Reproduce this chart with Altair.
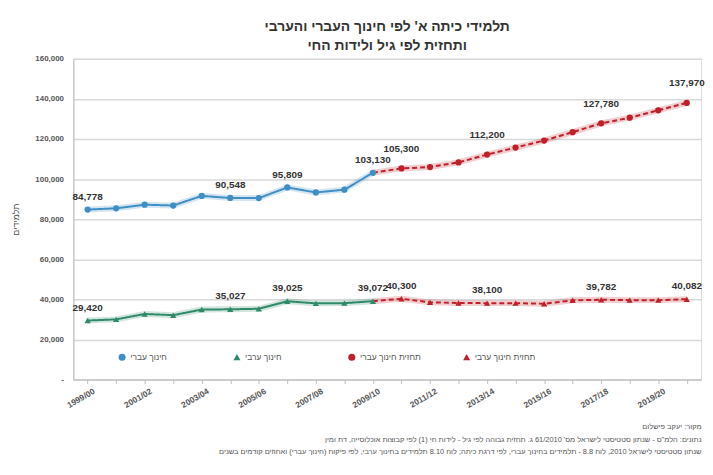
import altair as alt
import pandas as pd

years = ["1999/00", "2000/01", "2001/02", "2002/03", "2003/04", "2004/05",
         "2005/06", "2006/07", "2007/08", "2008/09", "2009/10", "2010/11",
         "2011/12", "2012/13", "2013/14", "2014/15", "2015/16", "2016/17",
         "2017/18", "2018/19", "2019/20", "2020/21"]

s_heb = "חינוך עברי"
s_arab = "חינוך ערבי"
s_heb_f = "תחזית חינוך עברי"
s_arab_f = "תחזית חינוך ערבי"
series_order = [s_heb, s_arab, s_heb_f, s_arab_f]

# actual values 1999/00 .. 2009/10
heb_actual = [84778, 85400, 87200, 86800, 91600, 90548, 90500, 95809, 93300, 94700, 103130]
arab_actual = [29420, 30000, 32700, 32100, 34900, 35027, 35300, 39025, 38000, 38100, 39072]
# forecast values 2009/10 .. 2020/21 (first value joins the actual series)
heb_forecast = [103130, 105300, 106000, 108300, 112200, 115700, 119200, 123400, 127780, 130600, 134300, 137970]
arab_forecast = [39072, 40300, 38500, 38200, 38100, 38100, 37800, 39500, 39782, 39600, 39600, 40082]

# data labels shown on chart
label_series = [s_heb, s_heb, s_heb, s_heb,
                s_arab, s_arab, s_arab, s_arab,
                s_heb_f, s_heb_f, s_heb_f, s_heb_f,
                s_arab_f, s_arab_f, s_arab_f, s_arab_f]
label_years = ["1999/00", "2004/05", "2006/07", "2009/10",
               "1999/00", "2004/05", "2006/07", "2009/10",
               "2010/11", "2013/14", "2017/18", "2020/21",
               "2010/11", "2013/14", "2017/18", "2020/21"]

title_lines = ["תלמידי כיתה א' לפי חינוך העברי והערבי", "ותחזית לפי גיל ולידות החי"]
y_title = "תלמידים"
footnotes = [
    "מקור: יעקב פישלום",
    "נתונים: הלמ\"ס - שנתון סטטיסטי לישראל מס' 61/2010 ג. תחזית גבוהה לפי גיל - לידות חי (1) לפי קבוצות אוכלוסייה, דת ומין",
    "שנתון סטטיסטי לישראל 2010, לוח 8.8 - תלמידים בחינוך עברי, לפי דרגת כיתה; לוח 8.10 תלמידים בחינוך ערבי, לפי פיקוח (חינוך עברי) ואחוזים קודמים בשנים",
]

rows = []
for y, v in zip(years[:11], heb_actual):
    rows.append({"year": y, "series": s_heb, "value": v, "pt": True})
for y, v in zip(years[:11], arab_actual):
    rows.append({"year": y, "series": s_arab, "value": v, "pt": True})
for i, (y, v) in enumerate(zip(years[10:], heb_forecast)):
    rows.append({"year": y, "series": s_heb_f, "value": v, "pt": i > 0})
for i, (y, v) in enumerate(zip(years[10:], arab_forecast)):
    rows.append({"year": y, "series": s_arab_f, "value": v, "pt": i > 0})
df = pd.DataFrame(rows)
# forecasts drawn first so actual series sit on top
df["z"] = df["series"].map({s_heb_f: 0, s_arab_f: 1, s_heb: 2, s_arab: 3})
df = df.sort_values(["z"], kind="stable")

lookup = {(r["series"], r["year"]): r["value"] for r in rows}
ldf = pd.DataFrame({
    "series": label_series,
    "year": label_years,
    "value": [lookup[(s, y)] for s, y in zip(label_series, label_years)],
})
ldf["label"] = ldf["value"].map(lambda v: f"{v:,}")

FONT = "Liberation Sans"
x_scale = alt.Scale(domain=years, padding=0.5)

x_enc = alt.X(
    "year:N", sort=years, scale=x_scale,
    axis=alt.Axis(
        title=footnotes,
        titleAnchor="end", titleAlign="right", titleFontSize=7.5,
        titleFontWeight="normal", titleColor="#555", titleLineHeight=12.5,
        titlePadding=14,
        labelAngle=-30, labelAlign="right", labelBaseline="top",
        labelExpr="parseInt(substring(datum.value,0,4)) % 2 == 1 ? datum.value : ''",
        labelFontSize=8.5, labelFontWeight="bold", labelColor="#555",
        labelPadding=3, labelOverlap=False, labelOffset=4,
        tickColor="#bbb", tickSize=4, domainColor="#bbb", grid=False,
    ),
)
y_enc = alt.Y(
    "value:Q", scale=alt.Scale(domain=[0, 160000], nice=False),
    axis=alt.Axis(
        title=y_title, titleFontSize=9, titleColor="#555", titleFontWeight="normal",
        titlePadding=14,
        values=[0, 20000, 40000, 60000, 80000, 100000, 120000, 140000, 160000],
        labelExpr="datum.value == 0 ? '-' : format(datum.value, ',')",
        labelFontSize=8, labelFontWeight="bold", labelColor="#555", labelPadding=10,
        ticks=False, domainColor="#bbb", gridColor="#d9d9d9", gridWidth=1.5,
    ),
)

color_scale = alt.Scale(domain=series_order, range=["#3f8fc5", "#2f8a68", "#c0202a", "#c0202a"])
shape_scale = alt.Scale(domain=series_order, range=["circle", "triangle-up", "circle", "triangle-up"])
dash_scale = alt.Scale(domain=series_order, range=[[1, 0], [1, 0], [5, 3], [5, 3]])

color_enc = alt.Color(
    "series:N", scale=color_scale, title=None,
    legend=alt.Legend(orient="none", legendX=45, legendY=297,
                      direction="horizontal", columns=4,
                      columnPadding=42, gridAlign="all",
                      labelFontSize=8.5, labelColor="#555",
                      symbolSize=50, symbolOpacity=1, symbolStrokeWidth=0,
                      labelFont=FONT),
)

base = alt.Chart(df)

glow = base.mark_line(strokeWidth=6, opacity=0.22).encode(
    x=x_enc, y=y_enc, color=color_enc,
)
lines = base.mark_line(strokeWidth=2).encode(
    x=x_enc, y=y_enc, color=color_enc,
    strokeDash=alt.StrokeDash("series:N", scale=dash_scale, legend=None),
)
points = base.transform_filter("datum.pt").mark_point(filled=True, size=40, opacity=1).encode(
    x=x_enc, y=y_enc, color=color_enc,
    shape=alt.Shape("series:N", scale=shape_scale, title=None),
)
texts_main = alt.Chart(ldf).transform_filter(
    alt.datum.series != s_heb_f
).mark_text(dy=-13, fontSize=10, fontWeight="bold", color="#333", font=FONT).encode(
    x=alt.X("year:N", sort=years, scale=x_scale),
    y=alt.Y("value:Q"),
    text="label:N",
)
texts_hf = alt.Chart(ldf).transform_filter(
    alt.datum.series == s_heb_f
).mark_text(dy=-20, fontSize=10, fontWeight="bold", color="#333", font=FONT).encode(
    x=alt.X("year:N", sort=years, scale=x_scale),
    y=alt.Y("value:Q"),
    text="label:N",
)

chart = alt.layer(glow, lines, points, texts_main, texts_hf).properties(
    width=634, height=324,
    title=alt.TitleParams(text=title_lines, fontSize=14, fontWeight="bold", color="#333",
                          anchor="middle", lineHeight=19, offset=2, font=FONT),
    padding={"left": 4, "top": 10, "right": 0, "bottom": 0},
).configure_view(stroke=None).configure(font=FONT)

chart.save("out.html", embed_options={"renderer": "svg", "actions": False})
